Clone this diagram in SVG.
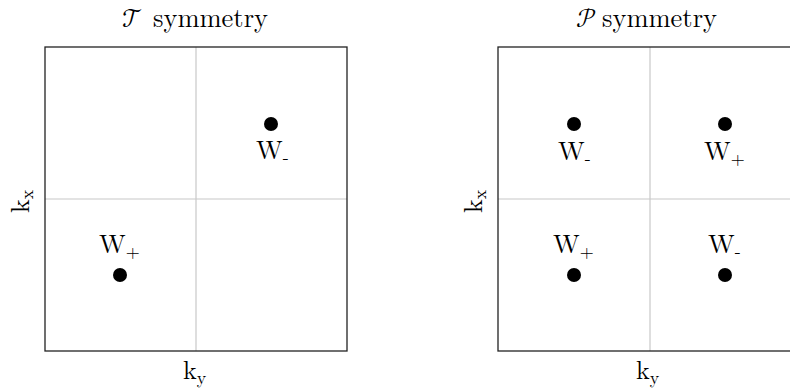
<svg xmlns="http://www.w3.org/2000/svg" width="790" height="392" viewBox="0 0 790 392">
<style>
text{fill:#000;font-family:Latin Modern Roman,Liberation Serif,serif}
.t{font-size:26.5px}
.cal{font-size:26.5px;font-family:Latin Modern Math,DejaVu Sans,serif}
.w{font-size:26px}
.k{font-size:26px}
.s{font-size:18px}
.box{fill:none;stroke:#222;stroke-width:1.3}
.ax{stroke:#c8c8c8;stroke-width:1.2}
.dot{fill:#000}
</style>
<rect width="790" height="392" fill="#fff"/>
<g id="panel-T">
<text class="cal" x="122" y="27">𝒯</text>
<text class="t" x="153" y="27">symmetry</text>
<g id="axes-T">
<line class="ax" x1="196" y1="47" x2="196" y2="351"/>
<line class="ax" x1="45" y1="199" x2="347" y2="199"/>
</g>
<rect class="box" x="45" y="47" width="302" height="304"/>
<text class="k" x="183" y="379">k<tspan class="s" dy="5">y</tspan></text>
<text class="k" transform="translate(29,213) rotate(-90)">k<tspan class="s" dy="4">x</tspan></text>
</g>
<g id="node-T-Wminus"><circle class="dot" cx="271" cy="124" r="7"/><text class="w" x="256" y="159">W<tspan class="s" dy="4">-</tspan></text></g>
<g id="node-T-Wplus"><circle class="dot" cx="120" cy="275" r="7"/><text class="w" x="99" y="253">W<tspan class="s" dy="5">+</tspan></text></g>
<g id="panel-P">
<text class="cal" x="576" y="27">𝒫</text>
<text class="t" x="602" y="27">symmetry</text>
<g id="axes-P">
<line class="ax" x1="650" y1="47" x2="650" y2="351"/>
<line class="ax" x1="498" y1="199" x2="800" y2="199"/>
</g>
<rect class="box" x="498" y="47" width="302" height="304"/>
<text class="k" x="636" y="379">k<tspan class="s" dy="5">y</tspan></text>
<text class="k" transform="translate(482,213) rotate(-90)">k<tspan class="s" dy="4">x</tspan></text>
</g>
<g id="node-P-Wminus-tl"><circle class="dot" cx="574" cy="124" r="7"/><text class="w" x="558" y="160">W<tspan class="s" dy="4">-</tspan></text></g>
<g id="node-P-Wplus-tr"><circle class="dot" cx="725" cy="124" r="7"/><text class="w" x="704" y="160">W<tspan class="s" dy="5">+</tspan></text></g>
<g id="node-P-Wplus-bl"><circle class="dot" cx="574" cy="275" r="7"/><text class="w" x="553" y="253">W<tspan class="s" dy="5">+</tspan></text></g>
<g id="node-P-Wminus-br"><circle class="dot" cx="725" cy="275" r="7"/><text class="w" x="708" y="253">W<tspan class="s" dy="4">-</tspan></text></g>
<g id="connectors"/>
</svg>
